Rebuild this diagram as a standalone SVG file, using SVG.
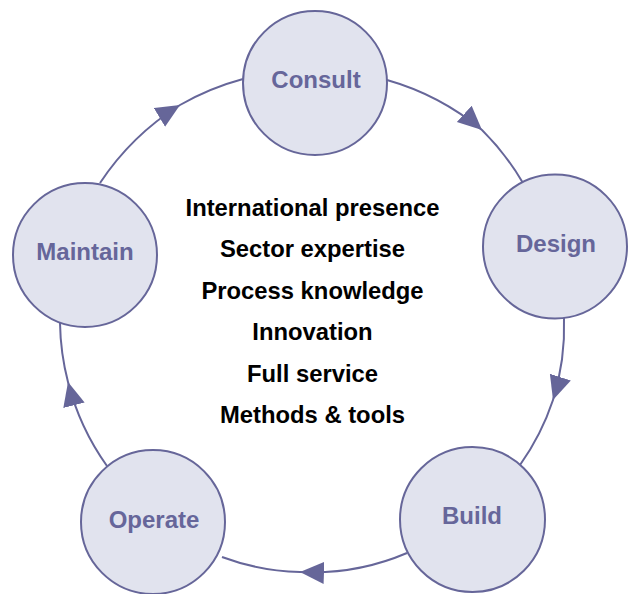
<svg xmlns="http://www.w3.org/2000/svg" width="633" height="594" viewBox="0 0 633 594">
<style>
.node circle{fill:#e1e3ee;stroke:#666699;stroke-width:2}
.node text{font-family:"Liberation Sans",Arial,sans-serif;font-weight:bold;font-size:24px;fill:#66669a;text-anchor:middle}
.conn path{fill:none;stroke:#666699;stroke-width:2;marker-mid:url(#ah)}
.center text{font-family:"Liberation Sans",Arial,sans-serif;font-weight:bold;font-size:23.8px;fill:#000;text-anchor:middle}
</style>
<defs>
<marker id="ah" markerUnits="userSpaceOnUse" markerWidth="26" markerHeight="24" refX="24" refY="11" orient="auto">
<path d="M0,0 L24,11 L0,22 z" fill="#666699"/>
</marker>
</defs>
<rect width="633" height="594" fill="#fff"/>
<g class="conn">
<path d="M100,183 A264,264 0 0 1 180,105 A264,264 0 0 1 243,79"/>
<path d="M387,80 A260,260 0 0 1 482,130 A260,260 0 0 1 523,183"/>
<path d="M564,318 A246,246 0 0 1 553,400 A246,246 0 0 1 520,465"/>
<path d="M407,553 A240,240 0 0 1 300,572 A240,240 0 0 1 222,557"/>
<path d="M107,466 A252,252 0 0 1 68,382 A252,252 0 0 1 60,323"/>
</g>
<g id="consult" class="node"><circle cx="315" cy="83" r="72"/><text x="316" y="88">Consult</text></g>
<g id="design" class="node"><circle cx="555" cy="246.5" r="72"/><text x="556" y="252">Design</text></g>
<g id="build" class="node"><circle cx="472.5" cy="519.5" r="72.5"/><text x="472" y="524">Build</text></g>
<g id="operate" class="node"><circle cx="153" cy="522" r="72"/><text x="154" y="528">Operate</text></g>
<g id="maintain" class="node"><circle cx="85" cy="255" r="72"/><text x="85" y="260">Maintain</text></g>
<g id="center" class="center">
<text x="312.5" y="216">International presence</text>
<text x="312.5" y="257">Sector expertise</text>
<text x="312.5" y="298.5">Process knowledge</text>
<text x="312.5" y="340">Innovation</text>
<text x="312.5" y="382">Full service</text>
<text x="312.5" y="423">Methods &amp; tools</text>
</g>
</svg>
